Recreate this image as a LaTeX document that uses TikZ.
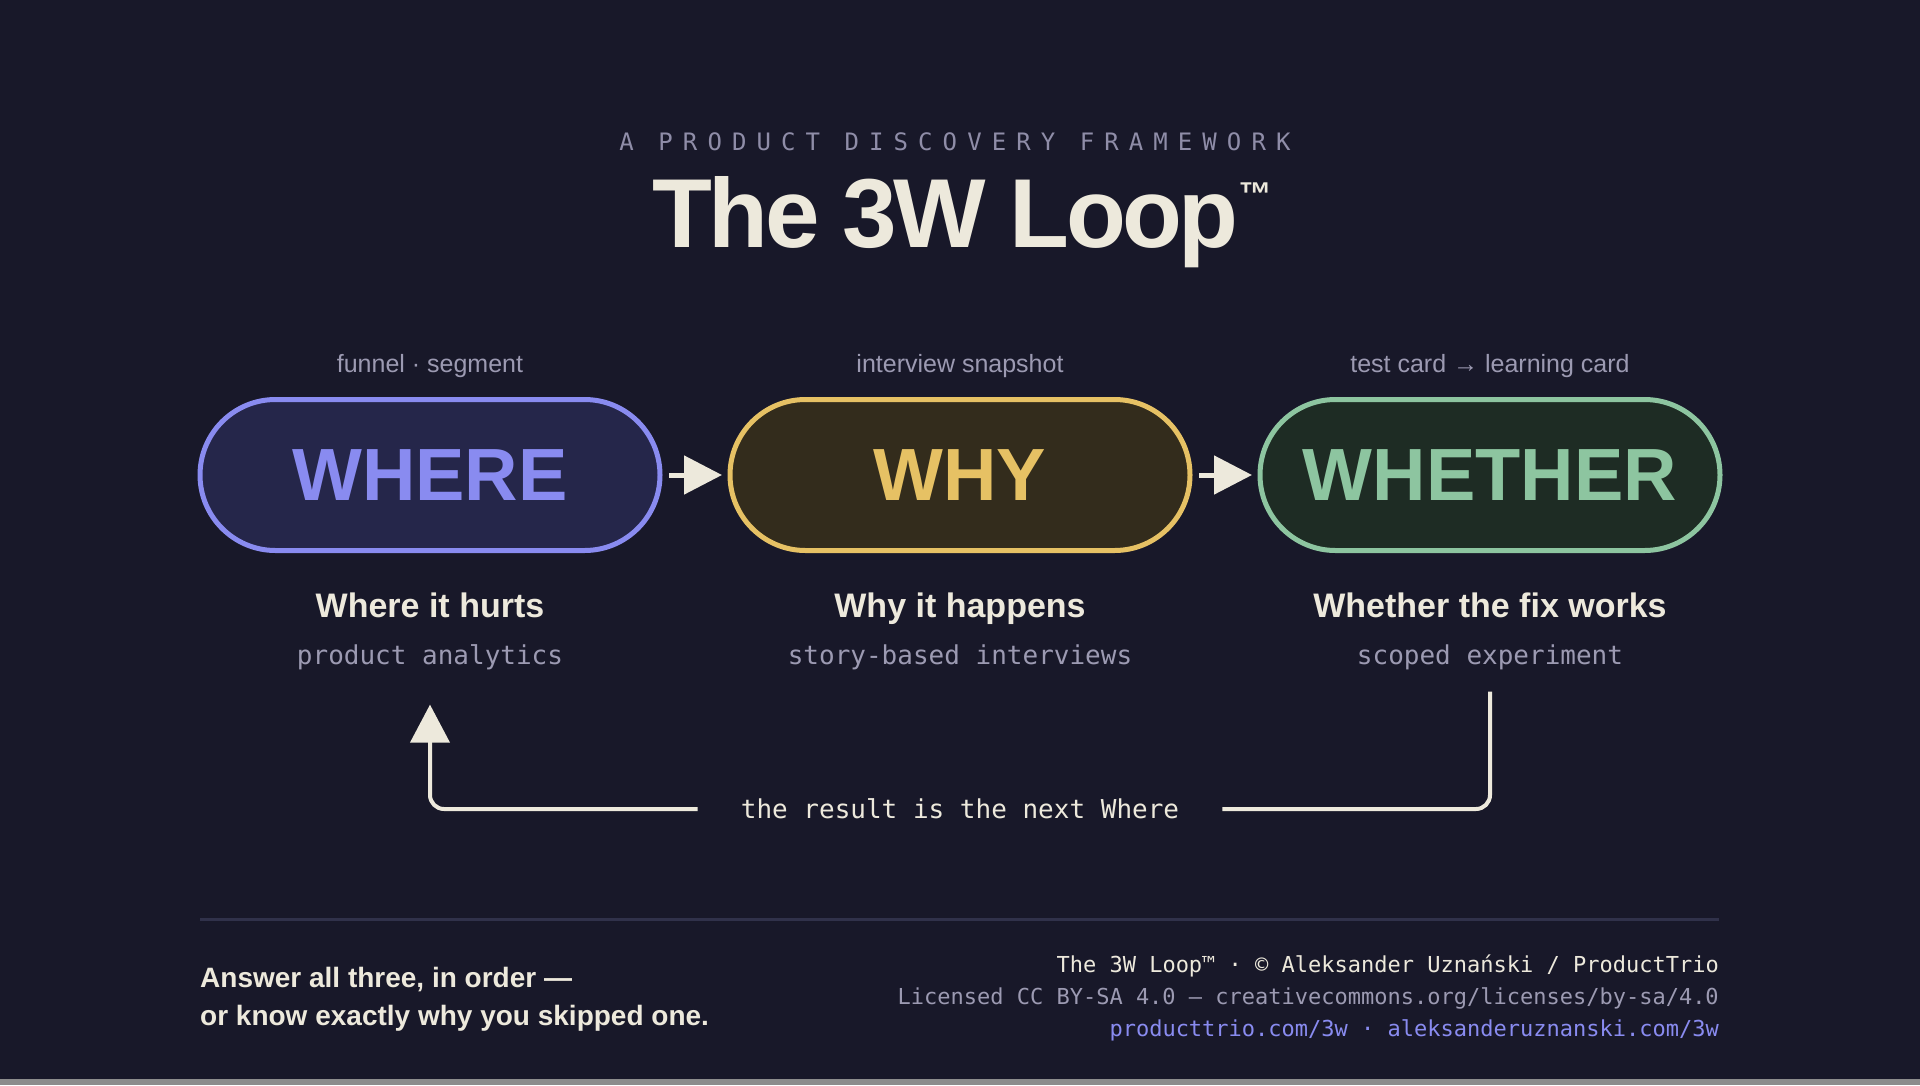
\documentclass[tikz,border=0pt]{standalone}
\usepackage{fontspec}
\setmainfont{Liberation Sans}
\setmonofont{DejaVu Sans Mono}
\newfontfamily\titlefont{Liberation Sans}[LetterSpace=-3.7]
\newfontfamily\kickerfont{DejaVu Sans Mono}[LetterSpace=42]
\usetikzlibrary{arrows.meta,positioning}
\newcommand{\pxsize}[1]{\fontsize{#1}{#1}\selectfont}
\definecolor{bgcol}{HTML}{181829}
\definecolor{cream}{HTML}{EDE9DC}
\definecolor{muted}{HTML}{9C9AB2}
\definecolor{kicker}{HTML}{8F8DA8}
\definecolor{rulecol}{HTML}{30314A}
\definecolor{whereC}{HTML}{898BF0}
\definecolor{whereF}{HTML}{25264A}
\definecolor{whyC}{HTML}{E6C164}
\definecolor{whyF}{HTML}{332C1C}
\definecolor{whetherC}{HTML}{8DC5A0}
\definecolor{whetherF}{HTML}{1E2C24}
\tikzset{
  pill/.style={draw, line width=5pt, rounded corners=75.5pt, minimum width=460pt,
    minimum height=151pt, inner sep=0pt, font=\bfseries\pxsize{74}},
  toplabel/.style={anchor=base, inner sep=0pt, text=muted, font=\pxsize{25}},
  heading/.style={anchor=base, inner sep=0pt, text=cream, font=\bfseries\pxsize{34}},
  method/.style={anchor=base, inner sep=0pt, text=muted, font=\ttfamily\pxsize{26}},
  flow/.style={line width=5pt, cream, -{Triangle[length=38pt,width=38pt]},
    shorten <=6.5pt, shorten >=5.5pt},
  loopline/.style={line width=4pt, cream, rounded corners=14pt}
}
\begin{document}
\begin{tikzpicture}[x=1pt,y=-1pt]
\fill[bgcol] (0,0) rectangle (1920,1085);
\useasboundingbox (0,0) rectangle (1920,1085);
\fill[black!45] (0,1079) rectangle (1920,1085);

\node[anchor=base, inner sep=0pt, text=kicker, font=\kickerfont\pxsize{24}] (kicker) at (955,150) {A PRODUCT DISCOVERY FRAMEWORK};
\node[anchor=base, inner sep=0pt, text=cream] (title) at (962,247)
  {{\titlefont\bfseries\pxsize{98}The 3W Loop}\raisebox{42pt}{\bfseries\pxsize{33}™}};

\node[pill, fill=whereF, draw=whereC, text=whereC] (where) at (430,475) {WHERE};
\node[pill, fill=whyF, draw=whyC, text=whyC] (why) at (960,475) {WHY};
\node[pill, fill=whetherF, draw=whetherC, text=whetherC] (whether) at (1490,475) {WHETHER};
\draw[flow] (where) -- (why);
\draw[flow] (why) -- (whether);

\node[toplabel] (funnel) at (430,372) {funnel · segment};
\node[toplabel] (snapshot) at (960,372) {interview snapshot};
\node[toplabel] (cards) at (1490,372) {test card → learning card};

\node[heading] (hurts) at (430,617) {Where it hurts};
\node[heading] (happens) at (960,617) {Why it happens};
\node[heading] (works) at (1490,617) {Whether the fix works};

\node[method] (analytics) at (430,664) {product analytics};
\node[method] (interviews) at (960,664) {story-based interviews};
\node[method] (experiment) at (1490,664) {scoped experiment};

\node[inner xsep=43pt, inner ysep=0pt, text height=18pt, text depth=0pt, text=cream,
  font=\ttfamily\pxsize{26}] (next) at (960,809) {the result is the next Where};
\coordinate (loopstart) at ([yshift=-22pt]experiment.south);
\coordinate (loopend) at ([yshift=-35pt]analytics.south);
\draw[loopline] (loopstart) |- (next.east);
\draw[loopline, -{Triangle[length=38pt,width=39pt]}] (next.west) -| (loopend);

\draw[rulecol, line width=3pt] (200,919) -- (1719,919);

\node[anchor=north west, inner sep=0pt, align=left, text=cream, font=\bfseries\fontsize{28}{38}\selectfont] (motto) at (200,967)
  {Answer all three, in order —\\or know exactly why you skipped one.};
\node[anchor=north east, inner sep=0pt, align=right, font=\ttfamily\fontsize{22}{32}\selectfont] (credits) at (1719,955)
  {\textcolor{cream}{The 3W Loop™ · © Aleksander Uznański / ProductTrio}\\
   \textcolor{muted}{Licensed CC BY-SA 4.0 — creativecommons.org/licenses/by-sa/4.0}\\
   \textcolor{whereC}{producttrio.com/3w · aleksanderuznanski.com/3w}};
\end{tikzpicture}
\end{document}
